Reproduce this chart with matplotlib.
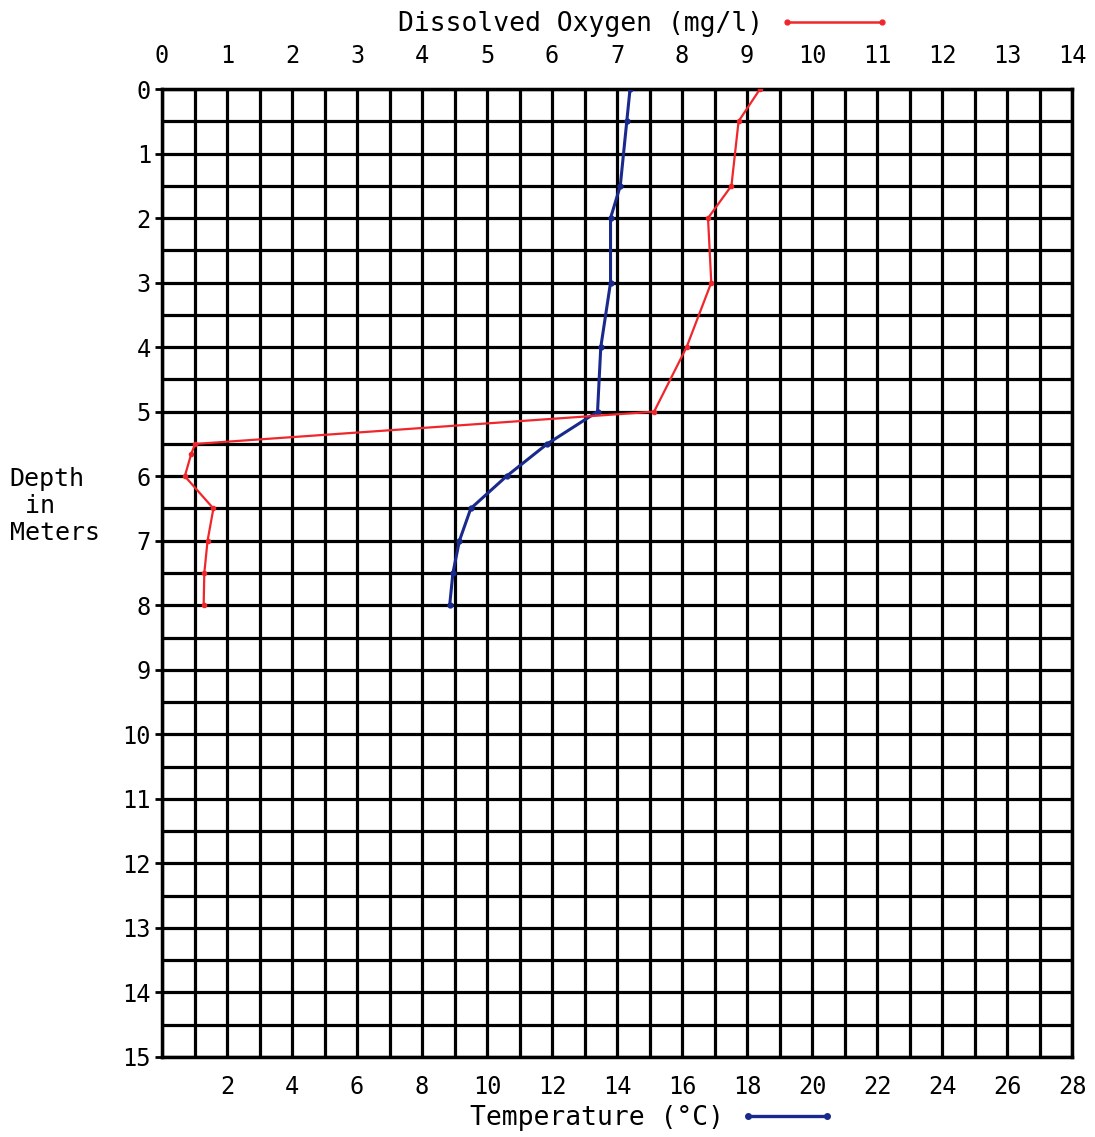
import matplotlib.pyplot as plt
from matplotlib.lines import Line2D

plt.rcParams['font.family'] = ['DejaVu Sans Mono']

# depth profiles
temp_depth = [0, 0.5, 1.5, 2, 3, 4, 5, 5.5, 6, 6.5, 7, 7.5, 8]
temp_c = [14.4, 14.3, 14.1, 13.8, 13.8, 13.5, 13.4, 11.85, 10.6, 9.5, 9.15, 8.95, 8.85]

do_depth = [0, 0.5, 1.5, 2, 3, 4, 5, 5.5, 5.65, 6, 6.5, 7, 7.5, 8]
do_mgl = [9.2, 8.87, 8.76, 8.4, 8.45, 8.07, 7.57, 0.51, 0.45, 0.35, 0.79, 0.7, 0.65, 0.64]

depth_ticks = list(range(0, 16))
do_ticks = list(range(0, 15))
temp_ticks = list(range(2, 29, 2))

red = '#f0262b'
blue = '#1a2a8c'

fig = plt.figure(figsize=(10.95, 11.37), dpi=100)
ax = fig.add_axes([0.148, 0.0704, 0.831, 0.8513])

# temperature on the bottom axis
ax.set_xlim(0, 28)
ax.set_ylim(15, 0)
ax.set_xticks(temp_ticks)
ax.set_xticks(range(0, 29), minor=True)
ax.set_yticks(depth_ticks)
ax.set_yticks([i * 0.5 for i in range(31)], minor=True)
ax.grid(which='both', color='black', linewidth=2.3)
ax.set_axisbelow(True)
ax.tick_params(axis='x', which='both', length=0, labelsize=17, pad=13)
ax.tick_params(axis='y', which='major', length=5, width=2, labelsize=17, pad=3)
ax.tick_params(axis='y', which='minor', length=0)
for s in ax.spines.values():
    s.set_linewidth(2.5)

ax.plot(temp_c, temp_depth, color=blue, linewidth=2.2, marker='o', markersize=3.5, zorder=5)

# dissolved oxygen on the top axis
ax2 = ax.twiny()
ax2.set_xlim(0, 14)
ax2.set_xticks(do_ticks)
ax2.tick_params(axis='x', length=0, labelsize=17, pad=15)
ax2.plot(do_mgl, do_depth, color=red, linewidth=1.6, marker='o', markersize=3, zorder=5)

fig.text(0.009, 0.555, 'Depth\n in\nMeters', fontsize=18, ha='left', va='center', linespacing=1.15)

# legend-style axis titles
h_do = Line2D([], [], color=red, linewidth=1.8, marker='o', markersize=3.5)
h_t = Line2D([], [], color=blue, linewidth=2.4, marker='o', markersize=4)
fig.legend([h_do], ['Dissolved Oxygen (mg/l)'], loc='center', bbox_to_anchor=(0.588, 0.979),
           frameon=False, markerfirst=False, numpoints=2, handlelength=4.2, fontsize=19,
           handletextpad=0.6, borderpad=0)
fig.legend([h_t], ['Temperature (°C)'], loc='center', bbox_to_anchor=(0.596, 0.0167),
           frameon=False, markerfirst=False, numpoints=2, handlelength=3.6, fontsize=19,
           handletextpad=0.6, borderpad=0)

fig.savefig('out.png', dpi=100)
